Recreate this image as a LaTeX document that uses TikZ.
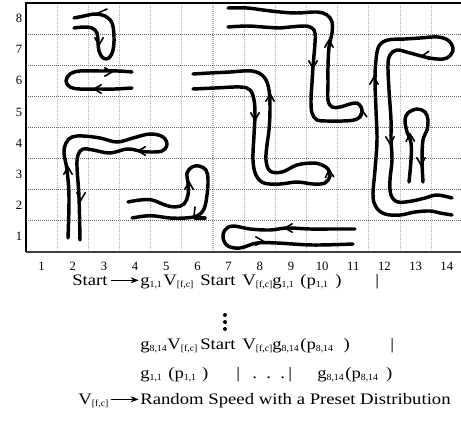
\documentclass[tikz,border=0pt]{standalone}
\usepackage{fontspec}
\setmainfont{Liberation Serif}
\newfontfamily\widefont[FakeStretch=1.17]{Liberation Serif}
\newfontfamily\subfont[FakeStretch=1.05]{Liberation Serif}
\usetikzlibrary{arrows.meta}
\newcommand\sbs[1]{\raisebox{-2.2pt}{\subfont\fontsize{7}{7}\selectfont #1}}
\newcommand\chev[3]{\draw[chevsty] (#1,#2) ++({#3+150}:6.3pt) -- (#1,#2) -- ++({#3-150}:6.3pt);}
\begin{document}
\begin{tikzpicture}[x=0.75pt,y=-0.75pt,
  curve/.style={line width=2.6pt,line cap=round,line join=round},
  chevsty/.style={line width=1.2pt,line cap=round,line join=miter},
  hgrid/.style={gray!80!black,line width=0.8pt,dash pattern=on 0.75pt off 0.75pt},
  vgrid/.style={gray!60,line width=0.8pt,dash pattern=on 0.75pt off 0.75pt},
  axlab/.style={font=\fontsize{9.5}{10}\selectfont,inner sep=0pt},
  txt/.style={font=\widefont\fontsize{12}{14}\selectfont,inner sep=0pt,anchor=base west},
  textarrow/.style={line width=0.7pt,-{Stealth[length=6pt,width=4.5pt]}}]
\useasboundingbox (0,0) rectangle (461,436);
\fill[white] (0,0) rectangle (461,436);
% grid
\foreach \k in {1,...,13} \draw[vgrid] ({26+\k*31.17},3) -- ({26+\k*31.17},252);
\foreach \k in {1,...,7} \draw[hgrid] (26,{252-\k*31.13}) -- (462,{252-\k*31.13});
% frame
\draw[line width=1.1pt] (462,3) -- (26,3) -- (26,252);
\draw[line width=1.5pt,black!75] (25.5,252) -- (462,252);
% axis labels
\foreach \r in {1,...,8} \node[axlab] (row\r) at (19,{252-(\r-0.5)*31.13}) {\r};
\foreach \c in {1,...,14} \node[axlab] (col\c) at ({26+(\c-0.5)*31.17},266) {\c};
% curve 1: top-left hook
\draw[curve] plot[smooth,tension=0.6] coordinates {(74,28) (84,27) (92,28) (97,33) (98,42) (99,51) (103,58) (109,58) (113,50) (114,37) (112,23) (105,16) (95,14) (84,16) (74,18)};
\draw[chevsty] (96,14) -- (107,9);
\chev{99}{45}{270}
% curve 2: row 6 loop
\draw[curve] plot[smooth,tension=0.6] coordinates {(132,72) (118,71) (100,71) (80,71) (70,74) (66,81) (70,87) (80,89) (100,89) (115,89) (132,88)};
\chev{112}{72}{0}
\chev{94}{89}{180}
% curve 3: middle shape
\draw[curve] plot[smooth,tension=0.6] coordinates {(193,89) (215,88) (240,87) (250,90) (254,100) (255,115) (254,135) (253,160) (256,175) (264,183) (280,184) (297,182) (313,184) (325,183) (330,176) (328,169) (322,165) (313,163) (297,165) (282,172) (270,171) (266,160) (267,145) (269,130) (270,110) (269,90) (264,77) (252,71) (230,72) (210,73) (193,74)};
\chev{255}{120}{270}
\chev{270}{94}{90}
\chev{329}{170}{95}
% curve 4: top big shape
\draw[curve] plot[smooth,tension=0.6] coordinates {(228,8) (247,8) (263,10) (280,12) (297,13) (317,12) (327,15) (332,22) (332,33) (329,47) (328,67) (328,83) (328,100) (332,107) (340,107) (350,104) (357,103) (361,107) (362,112) (360,117) (354,120) (343,121) (327,121) (317,120) (312,113) (311,100) (312,83) (313,67) (315,43) (315,33) (312,28) (305,26) (290,27) (280,28) (263,27) (247,26) (228,27)};
\chev{313}{68}{270}
\chev{329}{40}{90}
\chev{362}{110}{95}
% curve 5: right big shape
\draw[curve] plot[smooth,tension=0.6] coordinates {(452,215) (440,213) (430,211) (415,212) (400,215) (385,214) (376,207) (373,195) (375,170) (377,140) (376,110) (375,80) (376,60) (379,46) (388,40) (405,39) (420,38) (438,37) (449,41) (453,50) (447,58) (437,59) (425,57) (410,53) (397,50) (390,55) (388,65) (389,90) (391,120) (391,140) (392,160) (390,180) (391,195) (398,202) (412,201) (425,198) (437,195) (452,198)};
\chev{374}{77}{90}
\chev{390}{144}{270}
\chev{422}{56}{185}
% curve 6: small loop
\draw[curve] plot[smooth,tension=0.6] coordinates {(409,182) (411,160) (411,143) (407,132) (405,120) (408,113) (417,109) (425,112) (428,120) (427,130) (423,140) (422,160) (423,182)};
\chev{410}{134}{92}
\chev{421}{165}{270}
% curve 7: lower-left L
\draw[curve] plot[smooth,tension=0.6] coordinates {(68,238) (69,197) (67,170) (64,153) (66,143) (72,137) (83,136) (100,138) (117,142) (133,138) (150,134) (163,137) (167,145) (162,151) (150,152) (140,151) (127,149) (110,153) (93,150) (83,149) (78,155) (77,167) (79,197) (80,240)};
\chev{68}{167}{90}
\chev{81}{200}{270}
\chev{138}{151}{180}
% curve 8: lower-middle
\draw[curve] plot[smooth,tension=0.6] coordinates {(128,202) (140,200) (152,200) (165,205) (175,207) (184,204) (188,195) (188,183) (187,173) (192,167) (199,166) (206,170) (208,180) (207,195) (204,209) (197,216) (185,218) (170,218) (155,216) (145,216) (132,218)};
\draw[curve] (195,218) -- (205,218);
\chev{189}{182}{90}
\draw[chevsty] (195,207) -- (194,216);
% curve 9: row-1 loop
\draw[curve] plot[smooth,tension=0.6] coordinates {(355,229) (330,229) (310,229) (287,228) (270,230) (250,229) (233,226) (225,230) (223,238) (228,246) (240,248) (257,243) (277,243) (313,245) (353,244)};
\chev{285}{228}{180}
\chev{263}{241}{0}
% text
\node[txt] (s1) at (72,285) {Start};
\node[txt] (g1) at (140,285) {g\sbs{1,1}};
\node[txt] (v1) at (163,285) {V\sbs{[f,c]}};
\node[txt] (s2) at (200,285) {Start};
\node[txt] (v2) at (242,285) {V\sbs{[f,c]}};
\node[txt] (g2) at (272,285) {g\sbs{1,1}};
\node[txt] (p1) at (300,285) {(p\sbs{1,1}\hspace{5.5pt})};
\node[txt] (b1) at (375,285) {|};
\draw[textarrow] ([xshift=2pt,yshift=3.5pt]s1.base east) -- ([xshift=-1pt,yshift=3.5pt]g1.base west);
\fill (225,315) circle (1.5pt) (225,322) circle (1.5pt) (225,329) circle (1.5pt);
\node[txt] (g3) at (140,349) {g\sbs{8,14}};
\node[txt] (v3) at (167,349) {V\sbs{[f,c]}};
\node[txt] (s3) at (200,349) {Start};
\node[txt] (v4) at (242,349) {V\sbs{[f,c]}};
\node[txt] (g4) at (272,349) {g\sbs{8,14}};
\node[txt] (p3) at (300,349) {(p\sbs{8,14}\hspace{8pt})};
\node[txt] (b3) at (390,349) {|};
\node[txt] (g5) at (140,378) {g\sbs{1,1}};
\node[txt] (p5) at (168,378) {(p\sbs{1,1}\hspace{4.5pt})};
\node[txt] (b5) at (236,378) {|};
\node[txt] (d5) at (252,378) {.\ \ .\ \ .};
\node[txt] (b6) at (288,378) {|};
\node[txt] (g6) at (317,378) {g\sbs{8,14}};
\node[txt] (p6) at (345,378) {(p\sbs{8,14}\hspace{6pt})};
\node[txt] (v7) at (78,404) {V\sbs{[f,c]}};
\node[txt] (r7) at (140,404) {Random Speed with a Preset Distribution};
\draw[textarrow] ([xshift=2pt,yshift=3.5pt]v7.base east) -- ([xshift=-1pt,yshift=3.5pt]r7.base west);
\end{tikzpicture}
\end{document}
